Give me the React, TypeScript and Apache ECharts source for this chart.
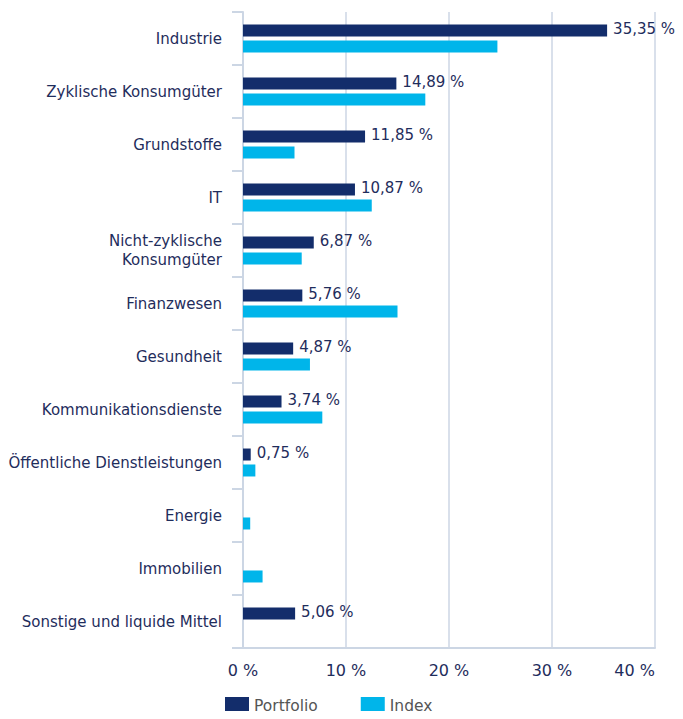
import React, { useEffect, useRef } from "react";
import * as echarts from "echarts";

const categories = [
  "Industrie",
  "Zyklische Konsumgüter",
  "Grundstoffe",
  "IT",
  "Nicht-zyklische\nKonsumgüter",
  "Finanzwesen",
  "Gesundheit",
  "Kommunikationsdienste",
  "Öffentliche Dienstleistungen",
  "Energie",
  "Immobilien",
  "Sonstige und liquide Mittel",
];
const portfolio = [35.35, 14.89, 11.85, 10.87, 6.87, 5.76, 4.87, 3.74, 0.75, 0, 0, 5.06];
const indexValues = [24.7, 17.7, 5.0, 12.5, 5.7, 15.0, 6.5, 7.7, 1.2, 0.7, 1.9, 0];
const xTicks = [0, 10, 20, 30, 40];

const FONT = "DejaVu Sans";
const TEXT = "#1f2d5c";
const GRID = "#ccd6e4";

export default function App() {
  const ref = useRef<HTMLDivElement>(null);
  useEffect(() => {
    if (!ref.current) return;
    const chart = echarts.init(ref.current, undefined, { renderer: "svg" });
    chart.setOption({
      animation: false,
      textStyle: { fontFamily: FONT },
      grid: { left: 243, right: 28, top: 12, bottom: 71, containLabel: false },
      legend: {
        top: 692,
        left: 220,
        itemWidth: 24,
        itemHeight: 18,
        itemGap: 43,
        itemTextGap: 7,
        icon: "rect",
        textStyle: { fontFamily: FONT, fontSize: 15.5, color: "#555555" },
        data: ["Portfolio", "Index"],
      },
      xAxis: {
        type: "value",
        min: xTicks[0],
        max: xTicks[xTicks.length - 1],
        interval: 10,
        axisLine: { show: true, lineStyle: { color: GRID, width: 2 } },
        axisTick: { show: false },
        splitLine: { show: true, lineStyle: { color: GRID, width: 1.5 } },
        axisLabel: {
          color: TEXT,
          fontSize: 16,
          fontFamily: FONT,
          margin: 14,
          alignMaxLabel: "right",
          formatter: (v: number) => `${v} %`,
        },
      },
      yAxis: {
        type: "category",
        data: categories,
        inverse: true,
        axisLine: { show: true, lineStyle: { color: GRID, width: 2 } },
        axisTick: { show: true, alignWithLabel: false, length: 11, lineStyle: { color: GRID, width: 2 } },
        axisLabel: { color: TEXT, fontSize: 15, fontFamily: FONT, margin: 21, lineHeight: 19 },
      },
      series: [
        {
          name: "Portfolio",
          type: "bar",
          data: portfolio,
          barWidth: 12,
          barGap: "33%",
          itemStyle: { color: "#132d6b" },
          label: {
            show: true,
            position: "right",
            distance: 6,
            color: TEXT,
            fontSize: 15,
            fontFamily: FONT,
            offset: [0, -2],
            formatter: (p: any) => (p.value ? `${p.value.toFixed(2).replace(".", ",")} %` : ""),
          },
        },
        {
          name: "Index",
          type: "bar",
          data: indexValues,
          barWidth: 12,
          itemStyle: { color: "#00b5ea" },
        },
      ],
    });
    return () => chart.dispose();
  }, []);
  return <div ref={ref} style={{ width: 683, height: 719, margin: -8 }} />;
}
